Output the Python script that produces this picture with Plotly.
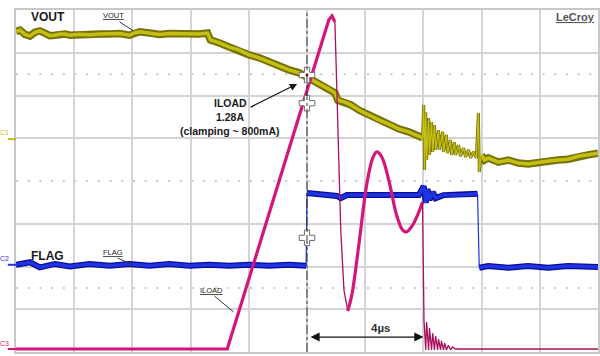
import plotly.graph_objects as go

# ---- data: time in microseconds, level in screen divisions ----
vout_main_t = [-10.00, -9.86, -9.69, -9.52, -9.35, -9.18, -9.01, -8.84, -8.66, -8.49, -8.32, -8.15,
               -7.81, -7.47, -7.12, -6.78, -6.44, -6.10, -5.92, -5.75, -5.41, -5.07, -4.73, -4.38,
               -4.04, -3.70, -3.42, -3.32, -3.01, -2.67, -2.33, -1.99, -1.64, -1.30, -0.96, -0.62,
               -0.27, 0.00, 0.24, 0.48, 0.75, 0.96, 1.06, 1.27, 1.51, 1.78, 2.12, 2.47, 2.81, 3.15,
               3.49, 3.84, 3.97]
vout_main_v = [3.50, 3.53, 3.43, 3.39, 3.48, 3.51, 3.46, 3.40, 3.41, 3.44, 3.44, 3.41,
               3.43, 3.42, 3.44, 3.44, 3.45, 3.41, 3.47, 3.49, 3.46, 3.43, 3.45, 3.44,
               3.45, 3.44, 3.46, 3.30, 3.23, 3.13, 3.06, 2.95, 2.88, 2.78, 2.69, 2.60,
               2.53, 2.43, 2.36, 2.27, 2.15, 2.06, 1.89, 1.85, 1.78, 1.66, 1.54, 1.43, 1.33, 1.22,
               1.15, 1.05, 1.01]
vout_ring_t = [3.97, 4.01, 4.04, 4.08, 4.11, 4.18, 4.21, 4.28, 4.32, 4.38, 4.42, 4.52, 4.55, 4.66,
               4.69, 4.79, 4.83, 4.93, 4.97, 5.07, 5.10, 5.21, 5.27, 5.38, 5.45, 5.55, 5.62, 5.72,
               5.82, 5.89, 5.92, 5.99]
vout_ring_v = [1.01, 1.78, 0.26, 1.61, 0.49, 1.47, 0.61, 1.38, 0.68, 1.31, 0.73, 1.19, 0.73, 1.15,
               0.68, 1.08, 0.65, 0.96, 0.61, 0.91, 0.61, 0.84, 0.58, 0.77, 0.56, 0.73, 0.54, 0.68,
               0.54, 1.59, 0.21, 0.61]
vout_end_t = [5.99, 6.10, 6.23, 6.58, 6.92, 7.26, 7.60, 7.95, 8.29, 8.63, 8.97, 9.32, 9.66, 10.00]
vout_end_v = [0.61, 0.49, 0.54, 0.44, 0.49, 0.42, 0.40, 0.44, 0.47, 0.49, 0.51, 0.58, 0.61, 0.65]

flag_low1_t = [-10.00, -9.52, -9.18, -8.66, -8.15, -7.47, -6.78, -6.10, -5.41, -4.73, -4.04,
               -3.36, -2.67, -1.99, -1.30, -0.62, -0.03]
flag_low1_v = [-1.96, -1.90, -2.02, -1.94, -2.00, -1.94, -1.98, -1.94, -1.98, -1.94, -1.98,
               -1.96, -1.98, -1.96, -1.98, -1.96, -1.98]
flag_high_t = [0.00, 0.41, 1.03, 1.16, 1.37, 2.12, 3.15, 3.84, 4.01, 4.08, 4.14, 4.21, 4.32,
               4.42, 4.69, 5.21, 5.86]
flag_high_v = [-0.28, -0.30, -0.35, -0.40, -0.33, -0.33, -0.33, -0.33, -0.12, -0.51, -0.19,
               -0.44, -0.26, -0.40, -0.33, -0.33, -0.30]
flag_low2_t = [5.92, 6.23, 6.92, 7.60, 8.29, 8.97, 10.00]
flag_low2_v = [-2.03, -1.99, -2.03, -1.99, -2.03, -1.99, -2.01]

iload_rise_t = [-10.00, -2.74, 0.75, 0.86, 0.96]
iload_rise_v = [-3.93, -3.93, 3.77, 3.86, 3.72]
iload_fall_t = [0.96, 1.06, 1.16, 1.27, 1.40]
iload_fall_v = [3.72, 1.43, -1.15, -2.55, -3.04]
iload_ring_t = [1.40, 1.54, 1.78, 2.05, 2.26, 2.40, 2.57, 2.81, 3.08, 3.29, 3.42, 3.63, 3.84, 3.97]
iload_ring_v = [-3.04, -2.67, -1.50, -0.09, 0.54, 0.68, 0.56, 0.02, -0.80, -1.15, -1.19, -1.03,
                -0.73, -0.49]
iload_tail_t = [3.97, 4.02, 4.08, 4.11, 4.18, 4.21, 4.28, 4.32, 4.38, 4.42, 4.49, 4.52, 4.59,
                4.62, 4.69, 4.73, 4.79, 4.86, 4.93, 5.00, 5.10, 10.00]
iload_tail_v = [-0.49, -3.25, -3.95, -3.30, -3.95, -3.44, -3.95, -3.56, -3.95, -3.63, -3.95,
                -3.70, -3.95, -3.74, -3.95, -3.79, -3.95, -3.84, -3.95, -3.88, -3.93, -3.93]

cursor_t = [0.0, 0.0, 0.0]
cursor_v = [2.48, 1.82, -1.33]

YEL_DARK = "#77720a"
YEL = "#c4bf12"
BLUE_DARK = "#0b0b9a"
BLUE = "#1d34e0"
MAG = "#d4157a"
MAG_DARK = "#a8105f"

fig = go.Figure()

def line(x, y, color, width, shape="linear"):
    fig.add_trace(go.Scatter(x=x, y=y, mode="lines", hoverinfo="skip",
                             line=dict(color=color, width=width, shape=shape)))

# VOUT
line(vout_main_t, vout_main_v, YEL_DARK, 7.5)
line(vout_end_t, vout_end_v, YEL_DARK, 7.5)
line(vout_ring_t, vout_ring_v, YEL_DARK, 3)
line(vout_main_t, vout_main_v, YEL, 3.5)
line(vout_end_t, vout_end_v, YEL, 3.5)
line(vout_ring_t, vout_ring_v, YEL, 1.3)
# FLAG
line([flag_low1_t[-1], flag_high_t[0]], [flag_low1_v[-1], flag_high_v[0]], BLUE, 1.2)
line([flag_high_t[-1], flag_low2_t[0]], [flag_high_v[-1], flag_low2_v[0]], BLUE, 1.2)
for seg_t, seg_v in [(flag_low1_t, flag_low1_v), (flag_high_t, flag_high_v),
                     (flag_low2_t, flag_low2_v)]:
    line(seg_t, seg_v, BLUE_DARK, 6)
    line(seg_t, seg_v, BLUE, 3.5)
# ILOAD
line(iload_rise_t, iload_rise_v, MAG, 3.2)
line(iload_fall_t, iload_fall_v, MAG_DARK, 1.3)
line(iload_ring_t, iload_ring_v, MAG, 3.2, shape="spline")
line(iload_tail_t, iload_tail_v, MAG_DARK, 1.3)

# cursors
fig.add_trace(go.Scatter(x=cursor_t, y=cursor_v, mode="markers",
                         marker=dict(symbol="cross", size=13, color="white",
                                     line=dict(color="#6e6e6e", width=1)), hoverinfo="skip"))
fig.add_trace(go.Scatter(x=[cursor_t[0]], y=[cursor_v[0]], mode="markers",
                         marker=dict(symbol="circle", size=3, color="#c00000"), hoverinfo="skip"))

shapes = []
for yv in [2.5, 0.0, -2.5]:
    shapes.append(dict(type="line", xref="x", yref="y", x0=-10, x1=10, y0=yv, y1=yv,
                       line=dict(color="#b8b8b8", width=1.5, dash="2px,9.7px"), layer="below"))
shapes.append(dict(type="line", xref="x", yref="y", x0=0, x1=0, y0=-4, y1=4,
                   line=dict(color="#333333", width=1, dash="dashdot")))
for (x0, y0, x1, y1) in [(-6.44, 3.72, -5.96, 3.51), (-6.51, -1.80, -5.99, -1.96),
                         (-3.18, -2.69, -2.53, -3.06)]:
    shapes.append(dict(type="line", xref="x", yref="y", x0=x0, y0=y0, x1=x1, y1=y1,
                       line=dict(color="#333333", width=1)))
for yv, col in [(0.98, YEL), (-1.96, BLUE), (-3.93, MAG)]:
    shapes.append(dict(type="line", xref="paper", yref="y", x0=-0.014, x1=0, y0=yv, y1=yv,
                       line=dict(color=col, width=2)))

ann = []
def txt(x, y, s, size, bold=False, color="#1a1a1a", xanchor="center", xref="x"):
    ann.append(dict(x=x, y=y, xref=xref, yref="y", text=f"<b>{s}</b>" if bold else s,
                    showarrow=False, xanchor=xanchor, yanchor="middle",
                    font=dict(family="Arial, Liberation Sans", size=size, color=color)))

txt(-9.56, 3.84, "VOUT", 12, bold=True, xanchor="left")
txt(-6.64, 3.87, "<u>VOUT</u>", 7.5)
txt(-9.56, -1.75, "FLAG", 12, bold=True, xanchor="left")
txt(-6.68, -1.68, "<u>FLAG</u>", 7.5)
txt(-3.29, -2.57, "<u>ILOAD</u>", 7.5)
txt(-2.64, 1.82, "ILOAD", 10.5, bold=True)
txt(-2.64, 1.50, "1.28A", 10.5, bold=True)
txt(-2.64, 1.16, "(clamping ~ 800mA)", 10.5, bold=True)
txt(2.53, -3.44, "4µs", 11.5, bold=True, color="#333333")
txt(9.95, 3.84, "<u>LeCroy</u>", 11, bold=True, color="#555555", xanchor="right")
txt(-0.009, 1.14, "C1", 7, color=YEL, xref="paper", xanchor="right")
txt(-0.009, -1.81, "C2", 7, color=BLUE, xref="paper", xanchor="right")
txt(-0.009, -3.79, "C3", 7, color=MAG, xref="paper", xanchor="right")

ann.append(dict(x=-0.34, y=2.27, ax=-1.99, ay=1.71, xref="x", yref="y", axref="x", ayref="y",
                text="", showarrow=True, arrowhead=2, arrowsize=1.2, arrowwidth=1.2,
                arrowcolor="#111111"))
ann.append(dict(x=4.0, y=-3.65, ax=0.07, ay=-3.65, xref="x", yref="y", axref="x", ayref="y",
                text="", showarrow=True, arrowhead=2, startarrowhead=2, arrowside="end+start",
                arrowsize=1.4, arrowwidth=1.3, arrowcolor="#111111"))

fig.update_layout(
    width=600, height=356,
    margin=dict(l=16, r=0, t=10, b=4),
    paper_bgcolor="white", plot_bgcolor="white",
    showlegend=False,
    shapes=shapes, annotations=ann,
    xaxis=dict(range=[-10, 10], dtick=2, tick0=0, showticklabels=False, ticks="",
               showgrid=True, gridcolor="#d4d4d4", gridwidth=1.5, zeroline=False,
               showline=True, linecolor="#c8c8c8", linewidth=2, mirror=True, fixedrange=True),
    yaxis=dict(range=[-4, 4], tickvals=[-3, -2, -1, 1, 2, 3], showticklabels=False, ticks="",
               showgrid=True, gridcolor="#d4d4d4", gridwidth=1.5, zeroline=False,
               showline=True, linecolor="#c8c8c8", linewidth=2, mirror=True, fixedrange=True),
)

fig.write_html("out.html", config={"displayModeBar": False},
               post_script="document.body.style.margin='0';document.body.style.overflow='hidden';")
